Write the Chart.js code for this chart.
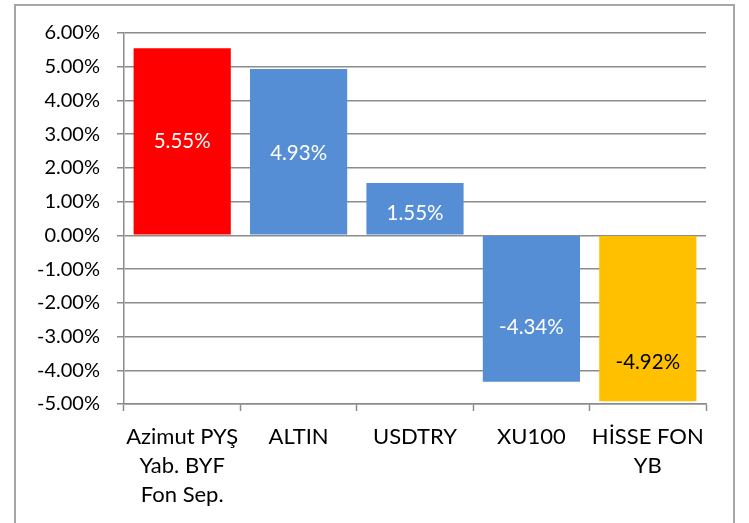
<!DOCTYPE html>
<html>
<head>
<meta charset="utf-8">
<script src="https://cdn.jsdelivr.net/npm/chart.js@4"></script>
<style>
  html, body { margin: 0; padding: 0; background: #fff; overflow: hidden; }
  #wrap { position: absolute; left: 0; top: 0; width: 749px; height: 523px; }
  #frame { position: absolute; left: 14px; top: 4px; width: 717px; height: 600px; border: 2px solid #a6a6a6; pointer-events: none; }
</style>
</head>
<body>
<div id="wrap"><canvas id="c" width="749" height="523"></canvas></div>
<div id="frame"></div>
<script>
const categories = [
  ["Azimut PYŞ", "Yab. BYF", "Fon Sep."],
  "ALTIN",
  "USDTRY",
  "XU100",
  ["HİSSE FON", "YB"]
];
const values = [5.55, 4.93, 1.55, -4.34, -4.92];
const barColors = ["#FF0000", "#558ED5", "#558ED5", "#558ED5", "#FFC000"];
const labelColors = ["#ffffff", "#ffffff", "#ffffff", "#ffffff", "#000000"];
const yMin = -5, yMax = 6, yStep = 1;

const labelPlugin = {
  id: 'barLabels',
  afterDatasetsDraw(chart, args, opts) {
    const ctx = chart.ctx;
    const meta = chart.getDatasetMeta(0);
    ctx.save();
    ctx.font = '20.5px Lato';
    ctx.textAlign = 'center';
    ctx.textBaseline = 'middle';
    meta.data.forEach((bar, i) => {
      const v = values[i];
      const cy = (bar.y + bar.base) / 2 + (opts.offsets[i] || 0);
      ctx.fillStyle = labelColors[i];
      ctx.fillText(v.toFixed(2) + '%', bar.x, cy);
    });
    ctx.restore();
  }
};

new Chart(document.getElementById('c'), {
  type: 'bar',
  data: {
    labels: categories,
    datasets: [{
      data: values,
      backgroundColor: barColors,
      borderWidth: 0,
      barPercentage: 0.835,
      categoryPercentage: 1.0
    }]
  },
  options: {
    responsive: false,
    animation: false,
    devicePixelRatio: 1,
    layout: { padding: { top: 33, right: 43, bottom: 0, left: 0 } },
    plugins: {
      legend: { display: false },
      tooltip: { enabled: false },
      barLabels: { offsets: [0, 2, 5, 18, 44] }
    },
    scales: {
      x: {
        offset: true,
        grid: {
          offset: true,
          drawOnChartArea: false,
          drawTicks: true,
          tickLength: 7,
          tickColor: '#8c8c8c',
          tickWidth: 1.5
        },
        border: { display: true, color: '#8c8c8c', width: 1.5 },
        ticks: {
          color: '#000',
          padding: 11,
          maxRotation: 0,
          autoSkip: false,
          font: { family: 'Lato', size: 22, lineHeight: 1.32 }
        },
        afterFit(scale) { scale.height = 119; }
      },
      y: {
        min: yMin,
        max: yMax,
        grid: {
          color: '#8c8c8c',
          lineWidth: 1.5,
          drawTicks: true,
          tickLength: 7,
          tickColor: '#8c8c8c',
          tickWidth: 1.5
        },
        border: { display: true, color: '#8c8c8c', width: 1.5 },
        ticks: {
          stepSize: yStep,
          color: '#000',
          padding: 17,
          font: { family: 'Lato', size: 20 },
          callback: (v) => Number(v).toFixed(2) + '%'
        },
        afterFit(scale) { scale.width = 124; }
      }
    }
  },
  plugins: [labelPlugin]
});
</script>
</body>
</html>
